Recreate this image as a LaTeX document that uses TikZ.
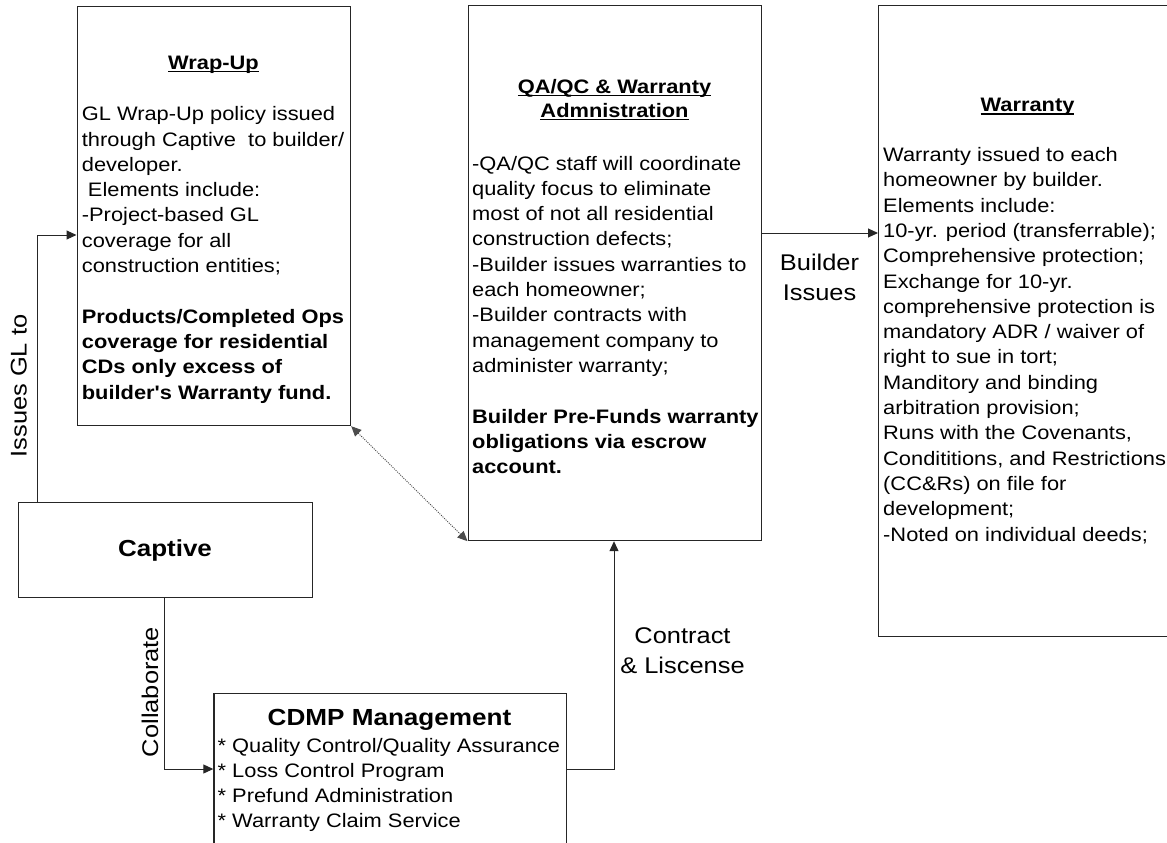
\documentclass[tikz,border=0pt]{standalone}
\usepackage{fontspec}
\setmainfont{Liberation Sans}[FakeStretch=1.12,Ligatures=TeXOff]
\usetikzlibrary{arrows.meta}
\newcommand{\TL}[1]{\begin{tabular}[t]{@{}l@{}}#1\end{tabular}}
\newcommand{\TC}[1]{\begin{tabular}[t]{@{}c@{}}#1\end{tabular}}
\newsavebox{\ulsave}
\newcommand{\ulx}[1]{\sbox\ulsave{#1}\rlap{\rule[-3pt]{\wd\ulsave}{1.4pt}}\usebox\ulsave}
\begin{document}
\begin{tikzpicture}[x=1pt,y=-1pt,
  box/.style={draw=black!85, line width=1.2pt, fill=white, rectangle, inner sep=0pt, anchor=north west},
  txt/.style={inner sep=0pt, font=\fontsize{19.5}{25.3}\selectfont},
  lbl/.style={inner sep=0pt, font=\fontsize{22.7}{30}\selectfont},
  conn/.style={draw=black!85, line width=1pt, -{Triangle[length=10pt,width=9pt]}},
  dotconn/.style={draw=black!70, line width=0.9pt, dash pattern=on 1pt off 1.2pt,
    {Triangle[length=10pt,width=9pt]}-{Triangle[length=10pt,width=9pt]}}
]
\useasboundingbox (0,0) rectangle (1167,843);
\clip (0,0) rectangle (1167,843);

% boxes
\node[box, minimum width=273.5pt, minimum height=419pt] (wrap) at (76.5,6) {};
\node[box, minimum width=293.5pt, minimum height=535pt] (qa) at (467.5,5) {};
\node[box, minimum width=300pt, minimum height=631pt] (war) at (878,5) {};
\node[box, minimum width=294pt, minimum height=95pt] (cap) at (18,502) {};
\node[box, minimum width=352.4pt, minimum height=170pt] (cdmp) at (213.3,692.7) {};

% Wrap-Up text
\node[txt, anchor=base] (wrapt) at (213.5,69.3) {\bfseries\ulx{Wrap-Up}};
\node[txt, anchor=base west] (wrapb) at (81.7,120.7) {\TL{GL Wrap-Up policy issued\\
through Captive\ \ to builder/\\
developer.\\
\ Elements include:\\
-Project-based GL\\
coverage for all\\
construction entities;\\
\\
\textbf{Products/Completed Ops}\\
\textbf{coverage for residential}\\
\textbf{CDs only excess of}\\
\textbf{builder's Warranty fund.}}};

% QA/QC text
\node[inner sep=0pt, font=\fontsize{19.5}{24}\selectfont\bfseries, anchor=base] (qat) at (614.5,93.3)
  {\TC{\ulx{QA/QC \& Warranty}\\\ulx{Admnistration}}};
\node[txt, anchor=base west] (qab) at (472,170) {\TL{-QA/QC staff will coordinate\\
quality focus to eliminate\\
most of not all residential\\
construction defects;\\
-Builder issues warranties to\\
each homeowner;\\
-Builder contracts with\\
management company to\\
administer warranty;\\
\\
\textbf{Builder Pre-Funds warranty}\\
\textbf{obligations via escrow}\\
\textbf{account.}}};

% Warranty text
\node[txt, anchor=base] (wart) at (1027.5,111.7) {\bfseries\ulx{Warranty}};
\node[txt, anchor=base west] (warb) at (883,161.5) {\TL{Warranty issued to each\\
homeowner by builder.\\
Elements include:\\
10-yr. period (transferrable);\\
Comprehensive protection;\\
Exchange for 10-yr.\\
comprehensive protection is\\
mandatory ADR / waiver of\\
right to sue in tort;\\
Manditory and binding\\
arbitration provision;\\
Runs with the Covenants,\\
Condititions, and Restrictions\\
(CC\&Rs) on file for\\
development;\\
-Noted on individual deeds;}};

% Captive
\node[inner sep=0pt, font=\fontsize{23.2}{28}\selectfont\bfseries, anchor=base] (capt) at (165,556.7) {Captive};

% CDMP
\node[inner sep=0pt, font=\fontsize{23.3}{28}\selectfont\bfseries, anchor=base] (cdmpt) at (389.5,725.7) {CDMP Management};
\node[inner sep=0pt, font=\fontsize{19.5}{25.2}\selectfont, anchor=base west] (cdmpi) at (217.5,752.2)
  {\TL{* Quality Control/Quality Assurance\\\relax* Loss Control Program\\\relax* Prefund Administration\\\relax* Warranty Claim Service}};

% connectors
\coordinate (glc) at (37,235);
\draw[conn] (cap.north -| glc) |- (wrap.west |- glc);
\coordinate (colc) at (164,769);
\draw[conn] (cap.south -| colc) |- (cdmp.west |- colc);
\coordinate (conc) at (614,769);
\draw[conn] (cdmp.east |- conc) -| (qa.south -| conc);
\coordinate (bic) at (800,233);
\draw[conn] (qa.east |- bic) -- (war.west |- bic);
\draw[dotconn] (wrap.south east) -- (qa.south west);

% labels
\node[lbl, rotate=90, anchor=base] (lgl) at (26.5,386) {Issues GL to};
\node[lbl, rotate=90, anchor=base] (lcol) at (158,692) {Collaborate};
\node[lbl, anchor=base] (lcon) at (682.5,643.3) {\TC{Contract\\\& Liscense}};
\node[lbl, anchor=base] (lbi) at (819.5,270) {\TC{Builder\\Issues}};
\end{tikzpicture}
\end{document}
